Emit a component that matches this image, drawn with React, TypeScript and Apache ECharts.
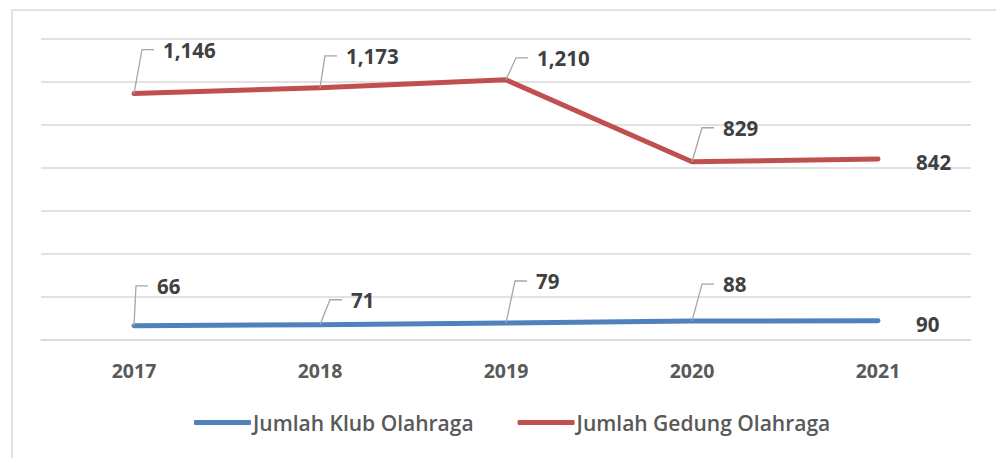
import React, { useEffect, useRef } from "react";
import * as echarts from "echarts";

const years = ["2017", "2018", "2019", "2020", "2021"];
const klubValues = [66, 71, 79, 88, 90];
const gedungValues = [1146, 1173, 1210, 829, 842];
const seriesNames = ["Jumlah Klub Olahraga", "Jumlah Gedung Olahraga"];

// callout placement (pixels relative to the point): [leaderDx, leaderDy] or null = plain label to the right
const klubCallouts: ([number, number] | null)[] = [[2, -40], [10, -25], [9, -42], [10, -37], null];
const gedungCallouts: ([number, number] | null)[] = [[8, -44], [5, -32], [10, -22], [10, -34], null];

const BLUE = "#4F81BD";
const RED = "#C0504D";
const GRID = "#D9D9D9";
const FONT = "'Open Sans', 'Noto Sans', sans-serif";

function calloutSeries(values: number[], callouts: ([number, number] | null)[]) {
  return {
    type: "custom",
    silent: true,
    z: 5,
    data: values.map((v, i) => [i, v]),
    renderItem: (params: any, api: any) => {
      const p = api.coord([api.value(0), api.value(1)]);
      const c = callouts[params.dataIndex];
      const text = Number(api.value(1)).toLocaleString("en-US");
      const textStyle = {
        text,
        fill: "#404040",
        font: `bold 20.5px ${FONT}`,
        verticalAlign: "middle",
        align: "left",
      };
      if (!c) {
        return {
          type: "text",
          x: p[0] + 38,
          y: p[1] + 3,
          style: textStyle,
        };
      }
      const [dx, dy] = c;
      return {
        type: "group",
        children: [
          {
            type: "polyline",
            shape: {
              points: [
                [p[0], p[1]],
                [p[0] + dx, p[1] + dy],
                [p[0] + dx + 12, p[1] + dy],
              ],
            },
            style: { stroke: "#A6A6A6", lineWidth: 1.3, fill: "none" },
          },
          {
            type: "text",
            x: p[0] + dx + 21,
            y: p[1] + dy,
            style: textStyle,
          },
        ],
      };
    },
  };
}

export default function App() {
  const ref = useRef<HTMLDivElement>(null);
  useEffect(() => {
    if (!ref.current) return;
    const chart = echarts.init(ref.current, null, { renderer: "svg" });
    chart.setOption({
      animation: false,
      backgroundColor: "#ffffff",
      grid: { left: 41, right: 25, top: 39, bottom: 118 },
      graphic: [
        { type: "line", shape: { x1: 12, y1: 10, x2: 996, y2: 10 }, style: { stroke: GRID, lineWidth: 1.5 } },
        { type: "line", shape: { x1: 12, y1: 10, x2: 12, y2: 458 }, style: { stroke: GRID, lineWidth: 1.5 } },
      ],
      legend: {
        left: 194,
        top: 412,
        padding: 0,
        itemWidth: 57,
        itemHeight: 5,
        itemGap: 44,
        icon: "roundRect",
        data: seriesNames.map((n) => ({ name: n, icon: "roundRect" })),
        textStyle: { color: "#595959", fontSize: 21, fontWeight: 600, fontFamily: FONT, padding: [0, 0, 0, -3] },
      },
      xAxis: {
        type: "category",
        data: years,
        boundaryGap: true,
        axisLine: { lineStyle: { color: GRID, width: 1.5 } },
        axisTick: { show: false },
        axisLabel: { color: "#595959", fontSize: 19.5, fontWeight: "bold", fontFamily: FONT, margin: 20 },
      },
      yAxis: {
        type: "value",
        min: 0,
        max: 1400,
        interval: 200,
        axisLabel: { show: false },
        axisLine: { show: false },
        axisTick: { show: false },
        splitLine: { lineStyle: { color: GRID, width: 1.5 } },
      },
      series: [
        {
          name: seriesNames[0],
          type: "line",
          data: klubValues,
          color: BLUE,
          symbol: "none",
          lineStyle: { width: 5, color: BLUE, cap: "round", join: "round" },
        },
        {
          name: seriesNames[1],
          type: "line",
          data: gedungValues,
          color: RED,
          symbol: "none",
          lineStyle: { width: 5, color: RED, cap: "round", join: "round" },
        },
        calloutSeries(klubValues, klubCallouts),
        calloutSeries(gedungValues, gedungCallouts),
      ],
    });
    return () => chart.dispose();
  }, []);
  return (
    <div style={{ position: "fixed", left: 0, top: 0, width: 996, height: 458, background: "#fff" }}>
      <div ref={ref} style={{ width: 996, height: 458 }} />
    </div>
  );
}
